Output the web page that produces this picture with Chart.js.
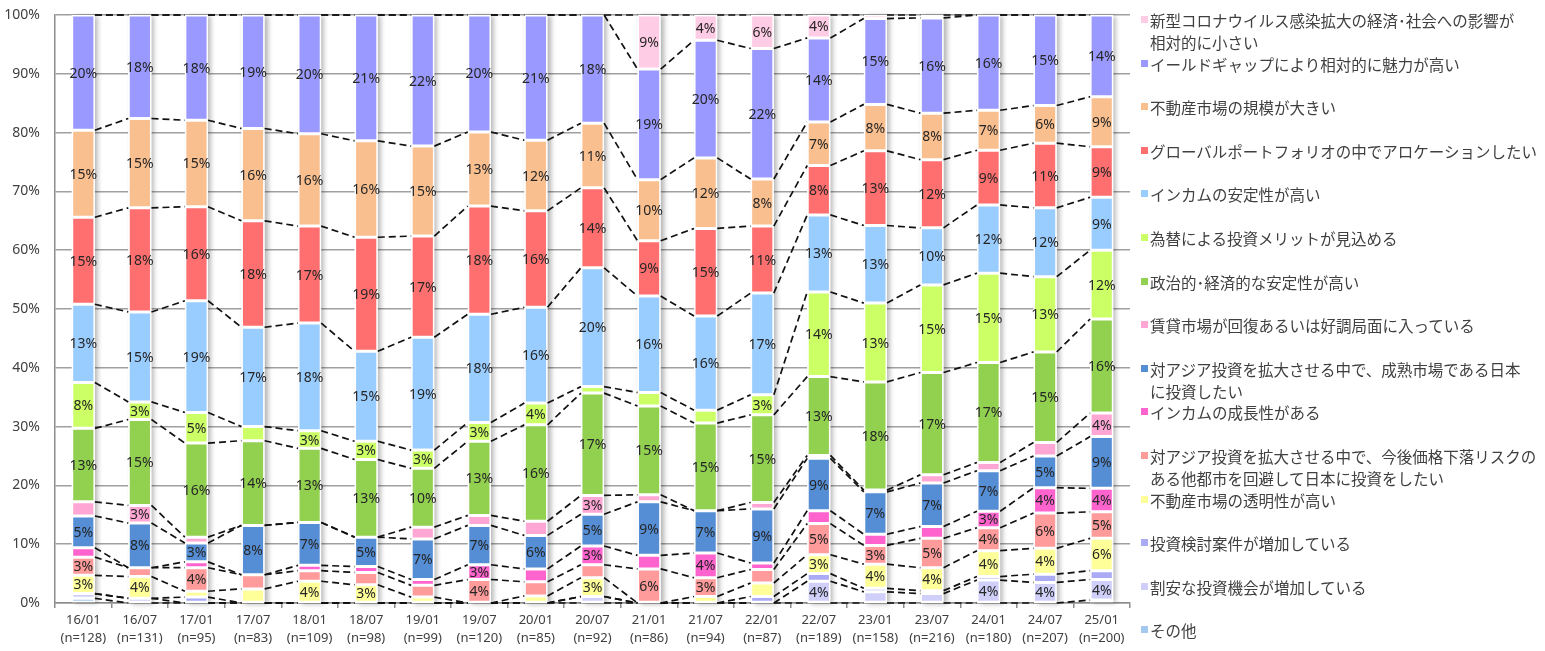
<!DOCTYPE html>
<html><head><meta charset="utf-8">
<script src="https://cdn.jsdelivr.net/npm/chart.js@4.4.1/dist/chart.umd.min.js"></script>
<style>
html,body{margin:0;padding:0;background:#fff;}
#wrap{position:relative;width:1545px;height:651px;overflow:hidden;}
#chartBox{position:absolute;left:0;top:0;width:1140px;height:651px;}
#legend{position:absolute;left:1138px;top:0;width:407px;height:651px;font-family:"Noto Sans CJK JP";font-size:15.5px;color:#404040;}
.item{position:absolute;left:0;line-height:22px;}
.sw{position:absolute;left:3px;top:7px;width:7px;height:7px;}
.txt{position:absolute;left:12px;top:0;white-space:pre;}
</style></head>
<body>
<div id="wrap">
  <div id="chartBox"><canvas id="c"></canvas></div>
  <div id="legend"></div>
</div>
<script>
// ---- data ----
const categories = ['16/01','16/07','17/01','17/07','18/01','18/07','19/01','19/07','20/01','20/07','21/01','21/07','22/01','22/07','23/01','23/07','24/01','24/07','25/01'];
const sampleSizes = [128,131,95,83,109,98,99,120,85,92,86,94,87,189,158,216,180,207,200];

const sonota   = [0.8,0,  0,  0,  0,  0,  0,  0,  0,  0,  0,  0,  0,  0,  0,  0,  0,  0,  0.5];
const wariyasu = [0.8,0.8,0,  0,  0,  0,  0,  0,  0,  1.1,0,  0,  0,  3.7,1.9,1.6,3.9,3.5,3.5];
const kentou   = [0,  0,  1.0,0,  0,  0,  0,  0,  0,  0,  0,  0,  1.1,1.3,0.6,0.5,0.6,1.4,1.5];
const toumei   = [3.1,3.7,1.0,2.4,3.7,3.1,1.0,0,  1.2,3.2,0,  1.1,2.3,3.2,4.1,3.9,4.4,4.4,5.5];
const kaihi    = [3.1,1.5,4.0,2.4,1.8,2.1,2.0,4.0,2.4,2.2,5.8,3.2,2.3,5.3,3.2,5.0,3.9,6.0,4.5];
const seichou  = [1.6,0,  1.0,0,  0.9,1.0,1.0,2.5,2.2,3.2,2.3,4.2,1.1,2.2,1.9,2.0,2.8,4.3,4.0];
const seijuku  = [5.4,7.6,3.2,8.4,7.3,5.0,6.9,6.7,5.7,5.4,9.1,7.2,9.2,8.9,7.2,7.4,6.9,5.4,8.8];
const chintai  = [2.4,3.0,1.0,0,  0,  0,  2.0,1.7,2.4,3.2,1.2,0,  1.1,0.5,0.3,1.4,1.4,2.3,4.0];
const seiji    = [12.5,14.6,16.0,14.4,12.6,13.2,10.0,12.6,16.4,17.4,15.1,14.9,14.9,13.4,18.4,17.4,17.0,15.4,16.0];
const kawase   = [7.8,3.0,5.2,2.4,3.0,3.1,3.1,3.2,3.7,1.1,2.3,2.2,3.4,14.4,13.4,14.9,15.2,12.8,11.7];
const antei    = [13.3,15.3,19.0,16.9,18.3,15.3,19.2,18.4,16.3,20.2,16.4,16.0,17.3,13.1,13.2,9.7,11.6,11.7,9.0];
const global   = [14.8,17.7,16.0,18.1,16.5,19.4,17.2,18.4,16.4,13.6,9.4,14.9,11.4,8.4,12.7,11.6,9.3,11.0,8.6];
const kibo     = [14.8,15.2,14.7,15.7,15.7,16.4,15.3,12.6,12.0,11.0,10.4,12.0,8.0,7.4,7.9,7.9,6.8,6.4,8.5];
const yieldGap = [19.6,17.6,17.9,19.3,20.2,21.4,22.3,19.9,21.3,18.4,18.8,20.0,22.2,14.3,14.6,16.2,16.2,15.4,13.9];
const corona   = [0,  0,  0,  0,  0,  0,  0,  0,  0,  0,  9.2,4.3,5.7,3.9,0.6,0.5,0,  0,  0];

const seriesNames = [
  'その他',
  '割安な投資機会が増加している',
  '投資検討案件が増加している',
  '不動産市場の透明性が高い',
  '対アジア投資を拡大させる中で、今後価格下落リスクの\nある他都市を回避して日本に投資をしたい',
  'インカムの成長性がある',
  '対アジア投資を拡大させる中で、成熟市場である日本\nに投資したい',
  '賃貸市場が回復あるいは好調局面に入っている',
  '政治的･経済的な安定性が高い',
  '為替による投資メリットが見込める',
  'インカムの安定性が高い',
  'グローバルポートフォリオの中でアロケーションしたい',
  '不動産市場の規模が大きい',
  'イールドギャップにより相対的に魅力が高い',
  '新型コロナウイルス感染拡大の経済･社会への影響が\n相対的に小さい'
];
const seriesValues = [sonota,wariyasu,kentou,toumei,kaihi,seichou,seijuku,chintai,seiji,kawase,antei,global,kibo,yieldGap,corona];
const seriesColors = ['#A3C9F0','#CFCFF9','#AAAAF5','#FFFF99','#FF9B9B','#FF63CD','#558ED5','#FFA6D5','#92D050','#CCFF66','#99CCFF','#FF6F6F','#FABF8F','#9999FF','#FFCCE5'];

// ---- legend (HTML) ----
const leg = document.getElementById('legend');
for (let k = 0; k < seriesNames.length; k++) {
  const idx = seriesNames.length - 1 - k;
  const it = document.createElement('div');
  it.className = 'item';
  it.style.top = (20 + k * 43.6 - 11) + 'px';
  const sw = document.createElement('div');
  sw.className = 'sw';
  sw.style.background = seriesColors[idx];
  const tx = document.createElement('div');
  tx.className = 'txt';
  tx.textContent = seriesNames[idx];
  it.appendChild(sw); it.appendChild(tx);
  leg.appendChild(it);
}

// ---- plugins ----
const barShadow = {
  id: 'barShadow',
  beforeDatasetsDraw(chart) {
    const ctx = chart.ctx;
    const first = chart.getDatasetMeta(0);
    const last = chart.getDatasetMeta(chart.data.datasets.length - 1);
    ctx.save();
    ctx.shadowColor = 'rgba(0,0,0,0.3)';
    ctx.shadowBlur = 5;
    ctx.shadowOffsetX = 3;
    ctx.shadowOffsetY = 1;
    ctx.fillStyle = '#ffffff';
    first.data.forEach((el, j) => {
      const top = last.data[j].y;
      ctx.fillRect(el.x - el.width / 2, top, el.width, el.base - top);
    });
    ctx.restore();
  }
};
const seriesLines = {
  id: 'seriesLines',
  afterDatasetsDraw(chart) {
    const ctx = chart.ctx;
    ctx.save();
    ctx.strokeStyle = '#111';
    ctx.lineWidth = 1.7;
    ctx.setLineDash([7, 4]);
    chart.data.datasets.forEach((ds, i) => {
      const meta = chart.getDatasetMeta(i);
      for (let j = 0; j < meta.data.length - 1; j++) {
        const a = meta.data[j], b = meta.data[j + 1];
        ctx.beginPath();
        ctx.moveTo(a.x + a.width / 2, a.y);
        ctx.lineTo(b.x - b.width / 2, b.y);
        ctx.stroke();
      }
    });
    ctx.restore();
  }
};
const valueLabels = {
  id: 'valueLabels',
  afterDatasetsDraw(chart) {
    const ctx = chart.ctx;
    ctx.save();
    ctx.font = '14px "Noto Sans"';
    ctx.fillStyle = '#262626';
    ctx.textAlign = 'center';
    ctx.textBaseline = 'middle';
    chart.data.datasets.forEach((ds, i) => {
      const meta = chart.getDatasetMeta(i);
      meta.data.forEach((el, j) => {
        const r = Math.round(ds.data[j]);
        if (r >= 3) ctx.fillText(r + '%', el.x, (el.y + el.base) / 2 + 1);
      });
    });
    ctx.restore();
  }
};

const labels = categories.map((c, i) => [c, '(n=' + sampleSizes[i] + ')']);
const datasets = seriesValues.map((vals, i) => ({
  label: seriesNames[i],
  data: vals,
  backgroundColor: seriesColors[i],
  borderColor: '#ffffff',
  borderWidth: 1.5,
  borderSkipped: false,
  barPercentage: 0.41,
  categoryPercentage: 1.0
}));

new Chart(document.getElementById('c'), {
  type: 'bar',
  data: { labels, datasets },
  options: {
    responsive: true,
    maintainAspectRatio: false,
    animation: false,
    layout: { padding: { top: 15, right: 10, left: 0, bottom: 0 } },
    plugins: { legend: { display: false }, tooltip: { enabled: false } },
    scales: {
      x: {
        stacked: true,
        grid: { display: true, drawOnChartArea: false, drawTicks: true, tickLength: 5, color: '#8c8c8c', lineWidth: 1.5 },
        border: { display: true, color: '#8c8c8c', width: 1.5 },
        ticks: { color: '#404040', font: { family: '"Noto Sans"', size: 13, lineHeight: 1.4 }, padding: 3, maxRotation: 0, autoSkip: false },
        afterFit(s) { s.height = 48; s.paddingLeft = 0; s.paddingRight = 0; }
      },
      y: {
        stacked: true,
        min: 0, max: 100,
        grid: { color: '#a0a0a0', lineWidth: 1.5, drawTicks: false },
        border: { display: true, color: '#8c8c8c', width: 1.5 },
        ticks: { stepSize: 10, color: '#404040', font: { family: '"Noto Sans"', size: 14 }, padding: 15, callback: v => v + '%' },
        afterFit(s) { s.width = 55; s.paddingTop = 0; s.paddingBottom = 0; }
      }
    }
  },
  plugins: [barShadow, seriesLines, valueLabels]
});
</script>
</body></html>
